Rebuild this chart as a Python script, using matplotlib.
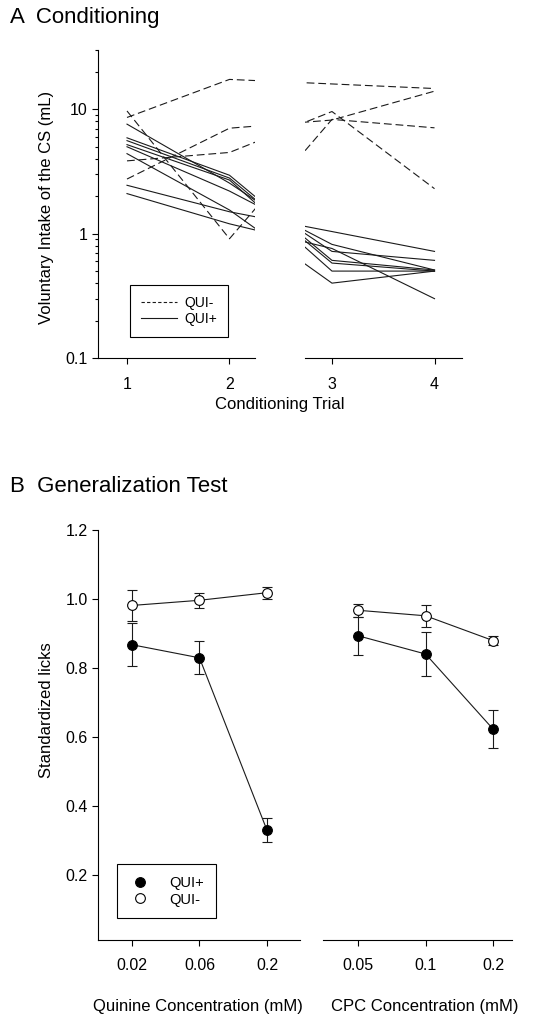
import numpy as np
import matplotlib.pyplot as plt
from matplotlib.lines import Line2D
from matplotlib.ticker import FixedLocator, LogLocator, NullFormatter, FixedFormatter

plt.rcParams['font.family'] = ['Liberation Sans', 'DejaVu Sans']

# ---- panel A: voluntary intake (mL) per rat over the 4 conditioning trials
trials = [1, 2, 3, 4]
qui_minus = [
    [8.6, 17.4, 16.0, 14.7],
    [2.75, 7.05, 8.2, 14.0],
    [3.85, 4.5, 9.6, 2.3],
    [9.7, 0.91, 8.3, 7.1],
]
qui_plus = [
    [7.6, 2.55, 0.72, 0.61],
    [5.9, 2.95, 0.61, 0.51],
    [5.6, 2.80, 0.58, 0.50],
    [5.2, 2.70, 0.50, 0.50],
    [5.0, 2.20, 0.82, 0.51],
    [4.4, 1.55, 0.40, 0.50],
    [2.45, 1.50, 1.04, 0.72],
    [2.1, 1.20, 0.76, 0.30],
]

# ---- panel B: generalization test, mean +/- sem of standardized licks
quinine_conc = ['0.02', '0.06', '0.2']
cpc_conc = ['0.05', '0.1', '0.2']
quinine_plus_mean = [0.867, 0.829, 0.329]
quinine_plus_sem = [0.063, 0.048, 0.036]
quinine_minus_mean = [0.981, 0.996, 1.018]
quinine_minus_sem = [0.045, 0.022, 0.018]
cpc_plus_mean = [0.893, 0.840, 0.622]
cpc_plus_sem = [0.055, 0.065, 0.055]
cpc_minus_mean = [0.967, 0.951, 0.879]
cpc_minus_sem = [0.019, 0.032, 0.014]

W, H = 535, 1018
fig = plt.figure(figsize=(W / 100, H / 100), dpi=100)

def box(x0, x1, ytop, ybot):
    # pixel box -> figure fraction rect
    return [x0 / W, 1 - ybot / H, (x1 - x0) / W, (ybot - ytop) / H]

TICK = 11.5
LABEL = 12
LW = 0.8
INK = '#1a1a1a'

# ---------------- panel A ----------------
axA1 = fig.add_axes(box(98, 255, 50, 358))
axA2 = fig.add_axes(box(305, 462, 50, 358))

for ax in (axA1, axA2):
    for row in qui_minus:
        ax.plot(trials, row, color=INK, lw=LW, ls=(0, (7, 3.5)))
    for row in qui_plus:
        ax.plot(trials, row, color=INK, lw=LW, ls='-')
    ax.set_yscale('log')
    ax.set_ylim(0.1, 30)
    for s in ('top', 'right'):
        ax.spines[s].set_visible(False)
    ax.tick_params(direction='out', labelsize=TICK, width=LW, length=4)
    ax.tick_params(which='minor', direction='out', width=LW, length=2.5)
    ax.tick_params(axis='x', pad=10)

axA1.set_xlim(0.717, 2.249)
axA2.set_xlim(2.737, 4.268)
axA1.set_xticks([1, 2])
axA2.set_xticks([3, 4])
axA1.yaxis.set_major_locator(FixedLocator([0.1, 1, 10]))
axA1.yaxis.set_major_formatter(FixedFormatter(['0.1', '1', '10']))
axA1.yaxis.set_minor_locator(LogLocator(base=10, subs=np.arange(2, 10)))
axA1.yaxis.set_minor_formatter(NullFormatter())
axA2.spines['left'].set_visible(False)
axA2.tick_params(axis='y', which='both', left=False, labelleft=False)

handlesA = [Line2D([], [], color=INK, lw=LW, ls=(0, (3, 2))),
            Line2D([], [], color=INK, lw=LW, ls='-')]
legA = axA1.legend(handlesA, ['QUI-', 'QUI+'], loc='upper left',
                   bbox_to_anchor=(130 / W, 1 - 285 / H),
                   bbox_transform=fig.transFigure, fancybox=False, framealpha=1,
                   edgecolor='black', fontsize=10, handlelength=2.6, borderpad=0.8,
                   labelspacing=0.15, borderaxespad=0, handletextpad=0.5)
legA.get_frame().set_linewidth(LW)

fig.text(10 / W, 1 - 23 / H, 'A  Conditioning', fontsize=16, ha='left', va='baseline')
fig.text(47 / W, 1 - 207 / H, 'Voluntary Intake of the CS (mL)', fontsize=LABEL,
         rotation=90, ha='center', va='center')
fig.text(280 / W, 1 - 404 / H, 'Conditioning Trial', fontsize=LABEL, ha='center', va='center')

# ---------------- panel B ----------------
axB1 = fig.add_axes(box(98, 300, 530, 940))
axB2 = fig.add_axes(box(323, 512, 530, 940))

xpos = np.arange(3)
series = [
    (axB1, quinine_plus_mean, quinine_plus_sem, 'black'),
    (axB1, quinine_minus_mean, quinine_minus_sem, 'white'),
    (axB2, cpc_plus_mean, cpc_plus_sem, 'black'),
    (axB2, cpc_minus_mean, cpc_minus_sem, 'white'),
]
for ax, m, e, fc in series:
    ax.errorbar(xpos, m, yerr=e, color=INK, lw=LW, elinewidth=LW, capsize=3.5,
                capthick=LW, marker='o', markersize=7, markerfacecolor=fc,
                markeredgecolor='black', markeredgewidth=LW, zorder=3)

for ax in (axB1, axB2):
    ax.set_ylim(0.01, 1.2)
    for s in ('top', 'right'):
        ax.spines[s].set_visible(False)
    ax.tick_params(direction='out', labelsize=TICK, width=LW, length=4)
    ax.tick_params(axis='x', pad=9)

axB1.set_xlim(-0.504, 2.49)
axB2.set_xlim(-0.52, 2.28)
axB1.set_xticks(xpos)
axB1.set_xticklabels(quinine_conc)
axB2.set_xticks(xpos)
axB2.set_xticklabels(cpc_conc)
axB1.set_yticks([0.2, 0.4, 0.6, 0.8, 1.0, 1.2])
axB1.set_yticklabels(['0.2', '0.4', '0.6', '0.8', '1.0', '1.2'])
axB2.spines['left'].set_visible(False)
axB2.tick_params(axis='y', left=False, labelleft=False)

handlesB = [Line2D([], [], ls='none', marker='o', markersize=7, markerfacecolor='black',
                   markeredgecolor='black', markeredgewidth=LW),
            Line2D([], [], ls='none', marker='o', markersize=7, markerfacecolor='white',
                   markeredgecolor='black', markeredgewidth=LW)]
legB = axB1.legend(handlesB, ['QUI+', 'QUI-'], loc='upper left',
                   bbox_to_anchor=(117 / W, 1 - 864 / H),
                   bbox_transform=fig.transFigure, fancybox=False, framealpha=1,
                   edgecolor='black', fontsize=10.5, borderpad=0.8, labelspacing=0.2,
                   borderaxespad=0, handletextpad=1.3, handlelength=1.5)
legB.get_frame().set_linewidth(LW)

fig.text(10 / W, 1 - 492 / H, 'B  Generalization Test', fontsize=16, ha='left', va='baseline')
fig.text(47 / W, 1 - 710 / H, 'Standardized licks', fontsize=LABEL, rotation=90,
         ha='center', va='center')
fig.text(198 / W, 1 - 1007 / H, 'Quinine Concentration (mM)', fontsize=LABEL,
         ha='center', va='center')
fig.text(425 / W, 1 - 1007 / H, 'CPC Concentration (mM)', fontsize=LABEL,
         ha='center', va='center')

fig.savefig('out.png', dpi=100)
